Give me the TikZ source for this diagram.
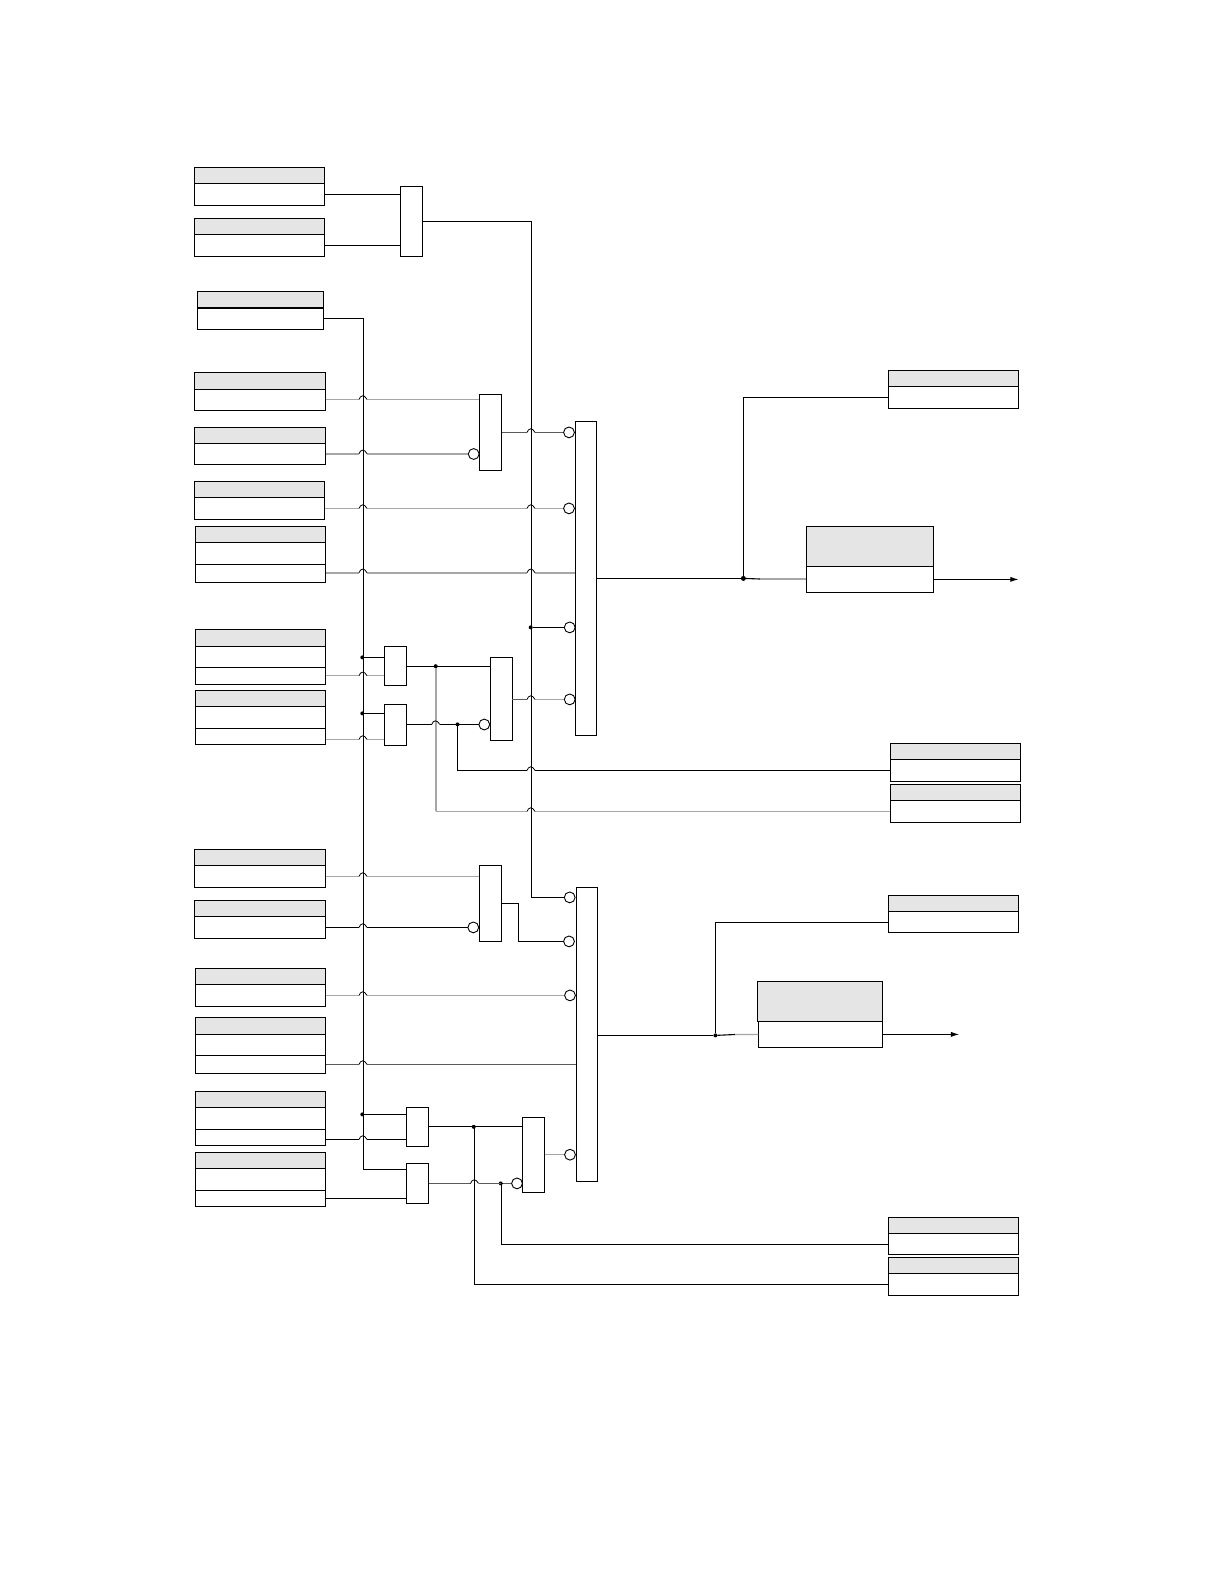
\documentclass[tikz,border=0pt]{standalone}
\usetikzlibrary{arrows.meta}
\definecolor{hdr}{HTML}{E5E5E5}
\definecolor{gl}{HTML}{A6A6A6}
\definecolor{dg}{HTML}{5A5A5A}
\tikzset{
  x=0.5pt,y=-0.5pt,
  boxn/.style={draw=black,line width=0.55pt,fill=white,inner sep=0pt,outer sep=0pt,anchor=north west},
  headn/.style={boxn,fill=hdr},
  gaten/.style={boxn},
  cirn/.style={circle,draw=black,line width=0.45pt,fill=white,inner sep=0pt,outer sep=0pt,minimum size=5.4pt},
  dotn/.style={circle,fill=black,inner sep=0pt,outer sep=0pt,minimum size=2pt},
  blk/.style={draw=black,line width=0.55pt},
  gry/.style={draw=gl,line width=0.6pt},
  gryt/.style={draw=gl,line width=0.85pt},
  drk/.style={draw=dg,line width=0.5pt},
  bmp/.style={draw=black,line width=0.4pt},
  arr/.style={blk,-{Latex[length=4.2pt,width=2.6pt]}},
}
\newcommand\rectn[6]{%
  \pgfmathsetmacro\rw{(#5-#3)*0.5}%
  \pgfmathsetmacro\rh{(#6-#4)*0.5}%
  \node[#1,minimum width=\rw pt,minimum height=\rh pt] (#2) at (#3,#4) {};}
% name x1 x2 y0 y1 y2 : grey header + white body
\newcommand\ibox[6]{\rectn{headn}{#1h}{#2}{#4}{#3}{#5}\rectn{boxn}{#1}{#2}{#5}{#3}{#6}}
% extra section under a box
\newcommand\isec[5]{\rectn{boxn}{#1}{#2}{#4}{#3}{#5}}
\newcommand\gate[5]{\rectn{gaten}{#1}{#2}{#4}{#3}{#5}}
\newcommand\cir[3]{\node[cirn] (#1) at (#2,#3) {};}
\newcommand\dotp[3]{\node[dotn] (#1) at (#2,#3) {};}
% gap in a horizontal wire for a jump at x=#1,y=#2
\newcommand\gp[2]{-- ({#1-4},#2) ({#1+4},#2)}
% the jump itself
\newcommand\jp[2]{\draw[bmp] ({#1-4},#2) .. controls ({#1-2.5},{#2-4.5}) and ({#1+1.5},{#2-5}) .. ({#1+4},#2);}
\begin{document}
\begin{tikzpicture}
\path[fill=white] (0,0) rectangle (1224,1584);
\useasboundingbox (0,0) rectangle (1224,1584);

% left boxes
\ibox{bA}{194.3}{324.7}{167.3}{183.3}{205.3}
\ibox{bB}{194.3}{324.7}{218.3}{234.3}{256.3}
\ibox{bC}{197.3}{323.7}{291.3}{307.6}{329.3}
\ibox{bD}{194.3}{325.7}{372.3}{389.3}{410.3}
\ibox{bE}{194.3}{325.7}{427.3}{443.3}{464.3}
\ibox{bF}{194.3}{324.7}{481.3}{497.3}{519.3}
\ibox{bG}{195.3}{325.7}{526.3}{542.3}{564.3}
\isec{bGs}{195.3}{325.7}{564.3}{582.3}
\ibox{bH}{195.3}{325.7}{629.3}{646.3}{667.3}
\isec{bHs}{195.3}{325.7}{667.3}{684.3}
\ibox{bI}{195.3}{325.7}{690.3}{706.3}{728.3}
\isec{bIs}{195.3}{325.7}{728.3}{744.3}
\ibox{bJ}{194.3}{325.7}{849.3}{865.3}{887.3}
\ibox{bK}{194.3}{325.7}{900.3}{916.3}{938.3}
\ibox{bL}{195.3}{325.7}{968.3}{984.3}{1006.3}
\ibox{bM}{195.3}{325.7}{1017.3}{1034.3}{1055.3}
\isec{bMs}{195.3}{325.7}{1055.3}{1073.3}
\ibox{bN}{195.3}{325.7}{1091.3}{1107.3}{1129.3}
\isec{bNs}{195.3}{325.7}{1129.3}{1145.3}
\ibox{bO}{195.3}{325.7}{1152.3}{1168.3}{1190.3}
\isec{bOs}{195.3}{325.7}{1190.3}{1206.3}
\draw[line width=0.95pt] (bCh.south west) -- (bCh.south east);

% right boxes
\ibox{rA}{888.3}{1018.7}{370.3}{386.3}{408.3}
\ibox{rB}{806.3}{933.7}{526.3}{566.3}{592.3}
\ibox{rC}{890.3}{1020.3}{743.3}{759.3}{781.3}
\ibox{rD}{890.3}{1020.3}{784.3}{800.3}{822.3}
\ibox{rE}{888.3}{1018.7}{895.3}{911.3}{932.3}
\rectn{headn}{rFh}{757.3}{981.3}{882.7}{1021.3}
\rectn{boxn}{rF}{758.3}{1021.3}{882.7}{1047.3}
\ibox{rG}{888.3}{1018.7}{1217.3}{1233.3}{1254.3}
\ibox{rH}{888.3}{1018.7}{1257.3}{1273.3}{1295.3}

% gates
\gate{gOr}{400.3}{422.7}{186.3}{256.3}
\gate{gP}{479.3}{501.7}{394.3}{470.3}
\gate{gQ}{384.3}{406.7}{646.3}{685.3}
\gate{gR}{384.3}{406.7}{704.3}{745.3}
\gate{gS}{490.3}{512.3}{657.3}{740.3}
\gate{gT}{479.3}{501.7}{865.3}{941.3}
\gate{gU}{406.3}{428.7}{1107.3}{1146.3}
\gate{gV}{406.3}{428.7}{1163.3}{1203.3}
\gate{gW}{522.3}{544.7}{1117.3}{1192.3}
\gate{barA}{575.3}{596.7}{421.3}{735.3}
\gate{barB}{576.3}{597.7}{887.3}{1181.3}

% junction dots and free ends
\dotp{dA}{362.3}{657.4}
\dotp{dB}{362.3}{713.4}
\dotp{dC}{362.3}{1114.4}
\dotp{dD}{530.7}{627.4}
\dotp{dE}{435.7}{666.2}
\dotp{dF}{457.5}{724.4}
\dotp{dG}{473.7}{1126.8}
\dotp{dH}{500.7}{1183.4}
\node[dotn,minimum size=2.5pt] (dI) at (743.4,578.4) {};
\dotp{dJ}{715.4}{1035.4}
\coordinate (endA) at (1018.7,579.4);
\coordinate (endB) at (959.3,1034.4);

% black wires
\draw[blk] (bA.east |- 0,194.4) -- (gOr.west |- 0,194.4);
\draw[blk] (bB.east |- 0,245.4) -- (gOr.west |- 0,245.4);
\draw[blk] (bC.east |- 0,318.4) -- (363.4,318.4) -- (363.4,1169.4) -- (gV.west |- 0,1169.4);
\draw[blk] (dA) -- (gQ.west |- dA);
\draw[blk] (dB) -- (gR.west |- dB);
\draw[blk] (dC) -- (gU.west |- dC);
\draw[blk] (dD) -- (569.7,627.4);
\draw[blk] (gQ.east |- 0,666.4) -- (gS.west |- 0,666.4);
\draw[blk] (dF) -- (457.6,724.4) -- (457.6,770.4) \gp{531}{770.4} -- (rC.west |- 0,770.4);
\jp{531}{770.4}

% box to gate lines with jumps
\draw[gry] (bD.east |- 0,399.4) \gp{363}{399.4} -- (gP.west |- 0,399.4); \jp{363}{399.4}
\draw[gryt] (bE.east |- 0,453.7) \gp{363}{453.7} -- (473.7,453.7); \jp{363}{453.7}
\draw[drk] (gP.east |- 0,432.4) \gp{531}{432.4} -- (569,432.4); \jp{531}{432.4}
\draw[gry] (bF.east |- 0,508.4) \gp{363}{508.4} \gp{531}{508.4} -- (569,508.4); \jp{363}{508.4}\jp{531}{508.4}
\draw[gryt] (bGs.east |- 0,572.7) \gp{363}{572.7} \gp{531}{572.7} -- (barA.west |- 0,572.7); \jp{363}{572.7}\jp{531}{572.7}
\draw[gry] (bHs.east |- 0,675.7) \gp{363}{675.7} -- (gQ.west |- 0,675.7); \jp{363}{675.7}
\draw[gry] (bIs.east |- 0,739.4) \gp{363}{739.4} -- (gR.west |- 0,739.4); \jp{363}{739.4}
\draw[gry] (bJ.east |- 0,876.4) \gp{363}{876.4} -- (gT.west |- 0,876.4); \jp{363}{876.4}
\draw[blk] (bK.east |- 0,927.4) \gp{363}{927.4} -- (473.3,927.4); \jp{363}{927.4}
\draw[gry] (bL.east |- 0,995.4) \gp{363}{995.4} -- (570,995.4); \jp{363}{995.4}
\draw[drk] (bMs.east |- 0,1064.4) \gp{363}{1064.4} -- (barB.west |- 0,1064.4); \jp{363}{1064.4}
\draw[blk] (bNs.east |- 0,1139.4) \gp{363}{1139.4} -- (gU.west |- 0,1139.4); \jp{363}{1139.4}
\draw[blk] (bOs.east |- 0,1198.4) -- (gV.west |- 0,1198.4);

% grey wire from the upper junction
\draw[gryt] (dE) -- (435.7,811);
\draw[gry] (435.7,811.4) \gp{531}{811.4} -- (rD.west |- 0,811.4); \jp{531}{811.4}
\draw[drk] (gS.east |- 0,699.4) -- (527,699.4);
\draw[gry] (535,699.4) -- (569.7,699.4); \jp{531}{699.4}

% second stage
\draw[blk] (gR.east |- 0,724.4) \gp{435.7}{724.4} -- (484.3,724.4); \jp{435.7}{724.4}
\draw[blk] (gU.east |- 0,1126.4) -- (gW.west |- 0,1126.4);
\draw[blk] (dG) -- (474.6,1126.8) -- (474.6,1284.4) -- (rH.west |- 0,1284.4);
\draw[drk] (gV.east |- 0,1183.4) \gp{474.5}{1183.4} -- (517,1183.4); \jp{474.5}{1183.4}
\draw[blk] (dH) -- (501.4,1183.4) -- (501.4,1244.4) -- (rG.west |- 0,1244.4);
\draw[gry] (gW.east |- 0,1154.7) -- (570,1154.7);
\draw[blk] (gT.east |- 0,903.4) -- (518.6,903.4) -- (518.6,941.4) -- (569,941.4);
\draw[blk] (gOr.east |- 0,221.4) -- (531.4,221.4) -- (531.4,897.4) -- (569.7,897.4);

% outputs
\draw[blk] (barA.east |- dI) -- (dI);
\draw[blk] (dI) -- (743.4,397.4) -- (rA.west |- 0,397.4);
\draw[blk] (dI) -- (760,579);
\draw[gry] (760,579) -- (rB.west |- 0,579);
\draw[arr] (rB.east |- endA) -- (endA);
\draw[blk] (barB.east |- dJ) -- (dJ);
\draw[blk] (dJ) -- (715.4,922.4) -- (rE.west |- 0,922.4);
\draw[blk] (dJ) -- (735,1034.5);
\draw[gry] (735,1034.5) -- (rF.west |- 0,1034.4);
\draw[arr] (rF.east |- endB) -- (endB);

% inversion circles
\cir{cA}{569}{432.4}
\cir{cB}{569}{508.4}
\cir{cC}{569.7}{627.4}
\cir{cD}{569.7}{699.4}
\cir{cE}{473.7}{454}
\cir{cF}{484.3}{724.5}
\cir{cG}{569.7}{897.4}
\cir{cH}{569}{941.4}
\cir{cI}{473.3}{927.4}
\cir{cJ}{570}{995.4}
\cir{cK}{570}{1154.7}
\cir{cL}{517}{1183.4}
\end{tikzpicture}
\end{document}
